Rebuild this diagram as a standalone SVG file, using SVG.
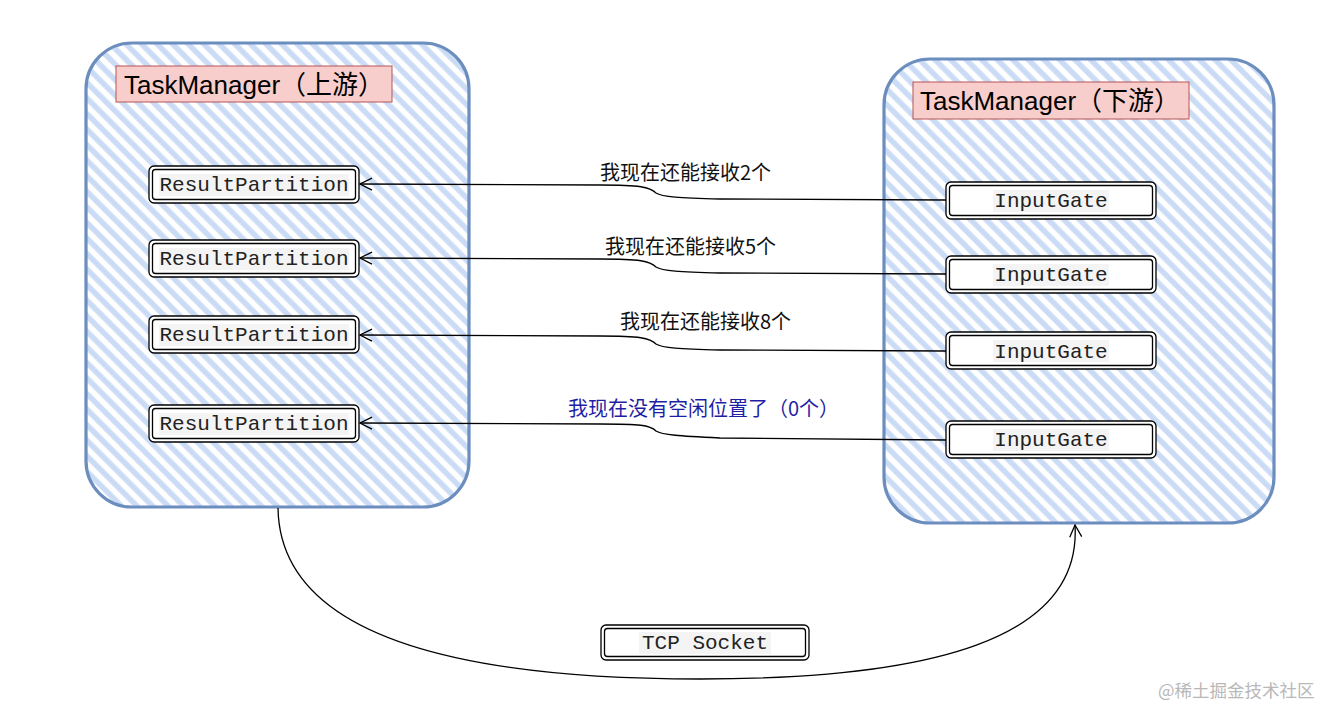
<svg xmlns="http://www.w3.org/2000/svg" width="1339" height="721" viewBox="0 0 1339 721">
<defs>
<pattern id="hatch" width="11" height="11" patternUnits="userSpaceOnUse" patternTransform="rotate(-45)">
<rect x="0" y="0" width="11" height="11" fill="#ffffff"/>
<line x1="3" y1="0" x2="3" y2="11" stroke="#cadcf5" stroke-width="5.5"/>
</pattern>
<marker id="arr" markerWidth="14" markerHeight="14" refX="13" refY="7" orient="auto" markerUnits="userSpaceOnUse">
<path d="M1,1 L13,7 L1,13" fill="none" stroke="#000" stroke-width="1.3"/>
</marker>
<style>
.cont{fill:url(#hatch);stroke:#6c8ebf;stroke-width:3.2;}
.title{fill:#f8cecc;stroke:#b85450;stroke-width:1;}
.ttext{font-family:"Liberation Sans","Noto Sans CJK SC",sans-serif;font-size:26px;fill:#000;}
.box{fill:#fff;stroke:#000;stroke-width:1.3;}
.inner{fill:none;stroke:#000;stroke-width:1.3;}
.tbg{fill:#f4f4f4;}
.mono{font-family:"Liberation Mono",monospace;font-size:21px;fill:#222;text-anchor:middle;}
.lbl{font-family:"Noto Sans CJK SC",sans-serif;font-size:20px;fill:#111;}
.conn{fill:none;stroke:#000;stroke-width:1.3;}
</style>
</defs>
<rect width="1339" height="721" fill="#fff"/>

<g id="upstream">
<rect class="cont" x="86" y="43" width="383" height="464" rx="46"/>
<rect class="title" x="116" y="66" width="276" height="36"/>
<text class="ttext" x="124" y="94">TaskManager（上游）</text>
</g>

<g id="downstream">
<rect class="cont" x="884" y="59" width="390" height="464" rx="46"/>
<rect class="title" x="913" y="82" width="276" height="37"/>
<text class="ttext" x="920" y="110">TaskManager（下游）</text>
</g>

<g id="rp1">
<rect class="box" x="149" y="166" width="210" height="37" rx="5"/>
<rect class="inner" x="152.5" y="169.5" width="203" height="30" rx="3"/>
<rect class="tbg" x="159" y="174" width="190" height="22"/>
<text class="mono" x="254" y="191">ResultPartition</text>
</g>
<g id="rp2">
<rect class="box" x="149" y="240" width="210" height="37" rx="5"/>
<rect class="inner" x="152.5" y="243.5" width="203" height="30" rx="3"/>
<rect class="tbg" x="159" y="248" width="190" height="22"/>
<text class="mono" x="254" y="265">ResultPartition</text>
</g>
<g id="rp3">
<rect class="box" x="149" y="316" width="210" height="37" rx="5"/>
<rect class="inner" x="152.5" y="319.5" width="203" height="30" rx="3"/>
<rect class="tbg" x="159" y="324" width="190" height="22"/>
<text class="mono" x="254" y="341">ResultPartition</text>
</g>
<g id="rp4">
<rect class="box" x="149" y="405" width="210" height="37" rx="5"/>
<rect class="inner" x="152.5" y="408.5" width="203" height="30" rx="3"/>
<rect class="tbg" x="159" y="413" width="190" height="22"/>
<text class="mono" x="254" y="430">ResultPartition</text>
</g>

<g id="ig1">
<rect class="box" x="946" y="182" width="210" height="37" rx="5"/>
<rect class="inner" x="949.5" y="185.5" width="203" height="30" rx="3"/>
<rect class="tbg" x="993" y="190" width="116" height="22"/>
<text class="mono" x="1051" y="207">InputGate</text>
</g>
<g id="ig2">
<rect class="box" x="946" y="256" width="210" height="37" rx="5"/>
<rect class="inner" x="949.5" y="259.5" width="203" height="30" rx="3"/>
<rect class="tbg" x="993" y="264" width="116" height="22"/>
<text class="mono" x="1051" y="281">InputGate</text>
</g>
<g id="ig3">
<rect class="box" x="946" y="332" width="210" height="37" rx="5"/>
<rect class="inner" x="949.5" y="335.5" width="203" height="30" rx="3"/>
<rect class="tbg" x="993" y="340" width="116" height="22"/>
<text class="mono" x="1051" y="358">InputGate</text>
</g>
<g id="ig4">
<rect class="box" x="946" y="421" width="210" height="37" rx="5"/>
<rect class="inner" x="949.5" y="424.5" width="203" height="30" rx="3"/>
<rect class="tbg" x="993" y="429" width="116" height="22"/>
<text class="mono" x="1051" y="446">InputGate</text>
</g>

<g id="tcp">
<rect class="box" x="601" y="625" width="208" height="35" rx="5"/>
<rect class="inner" x="604.5" y="628.5" width="201" height="28" rx="3"/>
<rect class="tbg" x="639" y="632" width="132" height="22"/>
<text class="mono" x="705" y="649">TCP Socket</text>
</g>

<g id="connectors">
<path class="conn" marker-end="url(#arr)" d="M946,200 L720,199 C680,198 662,197 656,193 C650,187 640,185 600,185 L360,184"/>
<path class="conn" marker-end="url(#arr)" d="M946,274 L720,273 C680,272 662,271 656,267 C650,261 640,259 600,259 L360,258"/>
<path class="conn" marker-end="url(#arr)" d="M946,351 L720,350 C680,349 662,348 656,344 C650,338 640,336 600,336 L360,335"/>
<path class="conn" marker-end="url(#arr)" d="M946,440 L720,438 C680,436 662,435 656,431 C650,425 640,424 600,424 L360,423"/>
<path class="conn" marker-end="url(#arr)" d="M278,508 C280,640 470,679 700,679 C930,679 1082,640 1075,525"/>
<text class="lbl" x="600" y="180">我现在还能接收2个</text>
<text class="lbl" x="605" y="254">我现在还能接收5个</text>
<text class="lbl" x="620" y="329">我现在还能接收8个</text>
<text class="lbl" x="568" y="416" style="fill:#1f1fa5">我现在没有空闲位置了（0个）</text>
</g>

<text x="1158" y="697" style="font-family:'Noto Sans CJK SC',sans-serif;font-size:17.5px;fill:#b8b8b8">@稀土掘金技术社区</text>
</svg>
